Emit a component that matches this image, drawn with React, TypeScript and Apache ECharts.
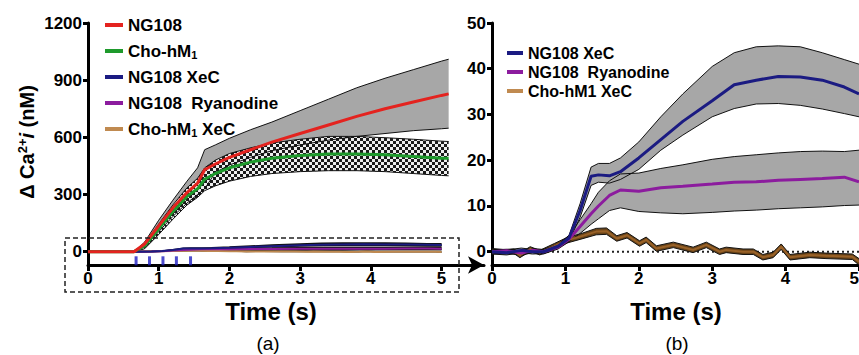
import React, { useEffect, useRef } from 'react';
import * as echarts from 'echarts';

// ---------- Panel (a) data (nM) ----------
const tA = [0, 0.3, 0.65, 0.8, 1.0, 1.2, 1.4, 1.55, 1.65, 1.8, 2.0, 2.3, 2.6, 3.0, 3.4, 3.8, 4.2, 4.6, 5.0, 5.1];
const redMean = [0, 0, 0, 40, 135, 230, 310, 360, 430, 460, 495, 535, 575, 620, 665, 710, 750, 785, 820, 828];
const redUpper = [0, 0, 0, 50, 165, 270, 370, 440, 535, 560, 595, 640, 680, 740, 800, 860, 910, 955, 1000, 1010];
const redLower = [0, 0, 0, 25, 105, 185, 255, 300, 330, 415, 455, 495, 530, 560, 585, 605, 620, 635, 645, 648];
const greenMean = [0, 0, 0, 30, 120, 210, 290, 330, 380, 410, 440, 470, 490, 505, 512, 513, 508, 500, 490, 490];
const greenUpper = [0, 0, 0, 40, 145, 245, 335, 385, 440, 480, 515, 545, 570, 590, 605, 605, 598, 590, 580, 578];
const greenLower = [0, 0, 0, 15, 90, 170, 245, 285, 320, 345, 370, 395, 410, 420, 425, 425, 420, 410, 400, 398];

// ---------- Panel (b) data (nM) ----------
const tB = [0, 0.2, 0.4, 0.55, 0.7, 0.9, 1.05, 1.2, 1.35, 1.45, 1.6, 1.75, 2.0, 2.3, 2.6, 3.0, 3.3, 3.6, 3.9, 4.2, 4.5, 4.8, 5.0];
const xecMean = [0, -0.2, 0.3, 0, 0, 1.2, 3, 9, 16.5, 16.8, 16.6, 17.5, 20.5, 24.5, 28.5, 33, 36.5, 37.5, 38.3, 38.2, 37.5, 36, 34.5];
const xecUpper = [0.5, 0.4, 0.8, 0.5, 0.4, 1.6, 3.6, 10.5, 18.5, 19.3, 19.3, 20.5, 24, 29.5, 34.5, 40.5, 43.5, 44.8, 45, 44.8, 43.5, 42, 41];
const xecLower = [-0.5, -0.7, -0.2, -0.5, -0.4, 0.8, 2.4, 7.5, 14.5, 15.2, 15, 15.8, 18, 22.2, 25.5, 29.5, 31.3, 32.3, 32.4, 32, 31.2, 30.2, 29.5];
const ryaMean = [0, 0.2, -0.3, 0.3, 0, 1, 2.8, 5.5, 8.3, 10, 12.3, 13.5, 13.2, 14, 14.3, 14.8, 15.2, 15.3, 15.6, 15.8, 16, 16.3, 15.3];
const ryaUpper = [0.5, 0.5, 0.3, 0.7, 0.5, 1.5, 3.5, 7, 10.5, 13, 15.5, 17, 17.2, 18.2, 19, 20.2, 20.8, 21.2, 21.6, 21.9, 22, 21.9, 22.2];
const ryaLower = [-0.5, -0.3, -0.8, -0.2, -0.5, 0.6, 2.2, 4, 6, 7.2, 9, 9.6, 8.8, 8.5, 8.3, 8.6, 8.9, 9.1, 9.4, 9.6, 9.8, 10.1, 10.2];
const tBrown = [0, 0.15, 0.3, 0.38, 0.52, 0.65, 0.85, 1.02, 1.2, 1.42, 1.56, 1.7, 1.84, 2.01, 2.1, 2.24, 2.47, 2.74, 2.92, 3.1, 3.19, 3.42, 3.56, 3.69, 3.83, 3.94, 4.06, 4.33, 4.55, 4.91, 5.0];
const brownMean = [0.2, 0, 0.1, -0.8, 0.6, -0.2, 1.2, 2.5, 3.3, 4.4, 4.5, 2.9, 3.6, 1.8, 2.6, 0.7, 1.5, 0.4, 1.5, 0, 0.4, 0, 0, -1.2, -0.7, 1.1, -1.2, -0.7, -0.9, -1.1, -2.2];
const brownSem = [0.5, 0.5, 0.5, 0.5, 0.5, 0.5, 0.6, 0.6, 0.6, 0.7, 0.7, 0.6, 0.6, 0.6, 0.6, 0.6, 0.6, 0.6, 0.6, 0.6, 0.6, 0.6, 0.6, 0.6, 0.6, 0.6, 0.6, 0.6, 0.6, 0.6, 0.7];

// stimulation markers (s)
const stimTimes = [0.68, 0.87, 1.06, 1.25, 1.45];

const ticksA = [0, 300, 600, 900, 1200];
const ticksB = [0, 10, 20, 30, 40, 50];
const ticksX = [0, 1, 2, 3, 4, 5];

const legendA = ['NG108', 'Cho-hM1', 'NG108 XeC', 'NG108  Ryanodine', 'Cho-hM1 XeC'];
const legendB = ['NG108 XeC', 'NG108  Ryanodine', 'Cho-hM1 XeC'];

const RED = '#e4231f';
const GREEN = '#1e9a2c';
const NAVY = '#1b1b82';
const PURPLE = '#8c1c9e';
const BROWN = '#9a6228';
const FONT = 'Liberation Sans, Arial, sans-serif';

const zip = (t: number[], v: number[]) => t.map((x, i) => [x, v[i]]);

function band(idx: number, t: number[], up: number[], lo: number[], fill: any, z: number) {
  return {
    type: 'custom',
    xAxisIndex: idx,
    yAxisIndex: idx,
    silent: true,
    z,
    clip: false,
    data: [[t[0], up[0]]],
    encode: { x: 0, y: 1 },
    renderItem: (_p: any, api: any) => {
      const pts: number[][] = [];
      for (let i = 0; i < t.length; i++) pts.push(api.coord([t[i], up[i]]));
      for (let i = t.length - 1; i >= 0; i--) pts.push(api.coord([t[i], lo[i]]));
      return { type: 'polygon', shape: { points: pts }, style: { fill, stroke: 'none' } };
    },
  };
}

function line(idx: number, name: string | undefined, t: number[], v: number[], color: string, width: number, z: number) {
  return {
    type: 'line',
    name,
    xAxisIndex: idx,
    yAxisIndex: idx,
    data: zip(t, v),
    showSymbol: false,
    symbol: 'none',
    silent: true,
    z,
    color,
    lineStyle: { color, width },
    itemStyle: { color },
  };
}

export default function App() {
  const ref = useRef<HTMLDivElement>(null);
  useEffect(() => {
    const chart = echarts.init(ref.current!, null, { renderer: 'svg' });

    const c = document.createElement('canvas');
    c.width = 6;
    c.height = 6;
    const ctx = c.getContext('2d')!;
    ctx.fillStyle = '#eeeeee';
    ctx.fillRect(0, 0, 6, 6);
    ctx.fillStyle = '#1a1a1a';
    ctx.fillRect(0, 0, 3, 3);
    ctx.fillRect(3, 3, 3, 3);
    const checker = { image: c, repeat: 'repeat', imageWidth: 6, imageHeight: 6 };

    const brownUp = brownMean.map((m, i) => m + brownSem[i]);
    const brownLo = brownMean.map((m, i) => m - brownSem[i]);

    const axisLabel = {
      fontFamily: FONT,
      fontWeight: 'bold',
      fontSize: 17,
      color: '#000',
      formatter: (v: number) => String(v),
    };

    const xAxisCommon = (max: number, arrow: boolean) => ({
      type: 'value',
      min: 0,
      max,
      splitLine: { show: false },
      axisLine: {
        onZero: false,
        lineStyle: { color: '#000', width: 3 },
        symbol: arrow ? ['none', 'arrow'] : ['none', 'none'],
        symbolSize: [13, 16],
      },
      axisTick: { show: true, customValues: ticksX, length: 6, lineStyle: { width: 3, color: '#000' } },
      axisLabel: {
        ...axisLabel,
        customValues: ticksX,
        margin: 5,
        showMaxLabel: true,
        alignMaxLabel: arrow ? 'center' : 'right',
      },
    });

    const option: any = {
      animation: false,
      textStyle: { fontFamily: FONT },
      grid: [
        { left: 88, top: 23, width: 396, height: 242, outerBoundsMode: 'none', containLabel: false },
        { left: 492, top: 23, width: 367, height: 242, outerBoundsMode: 'none', containLabel: false },
      ],
      xAxis: [
        { gridIndex: 0, ...xAxisCommon(5.6, true) },
        { gridIndex: 1, ...xAxisCommon(5, false) },
      ],
      yAxis: [
        {
          gridIndex: 0,
          type: 'value',
          min: -70,
          max: 1200,
          splitLine: { show: false },
          axisLine: { show: true, onZero: false, lineStyle: { color: '#000', width: 3 } },
          axisTick: { show: true, customValues: ticksA, length: 5, lineStyle: { width: 3, color: '#000' } },
          axisLabel: { ...axisLabel, customValues: ticksA, margin: 6 },
        },
        {
          gridIndex: 1,
          type: 'value',
          min: -2.9,
          max: 50,
          splitLine: { show: false },
          axisLine: { show: true, onZero: false, lineStyle: { color: '#000', width: 3 } },
          axisTick: { show: true, customValues: ticksB, length: 5, lineStyle: { width: 3, color: '#000' } },
          axisLabel: { ...axisLabel, customValues: ticksB, margin: 6 },
        },
      ],
      legend: [
        {
          data: legendA,
          orient: 'vertical',
          left: 100,
          top: 11,
          itemWidth: 18,
          itemHeight: 4,
          itemGap: 8,
          icon: 'rect',
          selectedMode: false,
          formatter: (name: string) =>
            name.startsWith('Cho-hM1') ? `{t|Cho-hM}{s|1}{t|${name.slice(7)}}` : `{t|${name}}`,
          textStyle: {
            fontFamily: FONT,
            fontWeight: 'bold',
            fontSize: 17,
            color: '#000',
            lineHeight: 18,
            rich: {
              t: { fontFamily: FONT, fontWeight: 'bold', fontSize: 17, color: '#000', lineHeight: 18 },
              s: { fontFamily: FONT, fontWeight: 'bold', fontSize: 11, color: '#000', lineHeight: 9, verticalAlign: 'bottom' },
            },
          },
        },
        {
          data: legendB,
          orient: 'vertical',
          left: 502,
          top: 40,
          itemWidth: 16,
          itemHeight: 4,
          itemGap: 3,
          icon: 'rect',
          selectedMode: false,
          textStyle: { fontFamily: FONT, fontWeight: 'bold', fontSize: 16, color: '#000', lineHeight: 16 },
        },
      ],
      graphic: [
        {
          type: 'text',
          x: 27,
          y: 142,
          rotation: Math.PI / 2,
          style: {
            text: '{a|Δ Ca}{p|2+}{i|i}{a| (nM)}',
            align: 'center',
            verticalAlign: 'middle',
            rich: {
              a: { fontFamily: FONT, fontWeight: 'bold', fontSize: 20, fill: '#000', lineHeight: 23 },
              p: { fontFamily: FONT, fontWeight: 'bold', fontSize: 13, fill: '#000', lineHeight: 13, verticalAlign: 'top' },
              i: { fontFamily: FONT, fontWeight: 'bold', fontStyle: 'italic', fontSize: 20, fill: '#000', lineHeight: 23 },
            },
          },
        },
        {
          type: 'text', x: 271, y: 311,
          style: { text: 'Time (s)', font: `bold 24px ${FONT}`, fill: '#000', align: 'center', verticalAlign: 'middle' },
        },
        {
          type: 'text', x: 676, y: 311,
          style: { text: 'Time (s)', font: `bold 24px ${FONT}`, fill: '#000', align: 'center', verticalAlign: 'middle' },
        },
        {
          type: 'text', x: 268, y: 343,
          style: { text: '(a)', font: `19px ${FONT}`, fill: '#000', align: 'center', verticalAlign: 'middle' },
        },
        {
          type: 'text', x: 677, y: 343,
          style: { text: '(b)', font: `19px ${FONT}`, fill: '#000', align: 'center', verticalAlign: 'middle' },
        },
        {
          type: 'rect',
          shape: { x: 65, y: 238, width: 394, height: 54 },
          style: { fill: 'none', stroke: '#222', lineWidth: 1.5, lineDash: [5, 3] },
          z: 100,
        },
      ],
      series: [
        // ----- panel (a) -----
        band(0, tA, redUpper, redLower, '#a7a7a7', 1),
        band(0, tA, greenUpper, greenLower, checker, 2),
        line(0, undefined, tA, redUpper, '#111', 1, 3),
        line(0, undefined, tA, redLower, '#111', 1, 3),
        line(0, undefined, tA, greenUpper, '#111', 1, 3),
        line(0, undefined, tA, greenLower, '#111', 1, 3),
        band(0, tB, xecUpper, xecLower, '#111', 3),
        band(0, tB, ryaUpper, ryaLower, '#111', 3),
        line(0, undefined, tB, xecUpper, '#111', 1.5, 3),
        line(0, undefined, tB, xecLower, '#111', 1.5, 3),
        line(0, undefined, tB, ryaUpper, '#111', 1.5, 3),
        line(0, undefined, tB, ryaLower, '#111', 1.5, 3),
        band(0, tBrown, brownUp, brownLo, '#222', 3),
        line(0, undefined, tBrown, brownUp, '#111', 1.5, 3),
        line(0, 'Cho-hM1 XeC', tBrown, brownMean, '#c08a50', 2, 4),
        line(0, 'NG108  Ryanodine', tB, ryaMean, PURPLE, 2, 4),
        line(0, 'NG108 XeC', tB, xecMean, NAVY, 2, 4),
        line(0, 'Cho-hM1', tA, greenMean, GREEN, 3, 5),
        line(0, 'NG108', tA, redMean, RED, 3, 6),
        {
          type: 'scatter',
          xAxisIndex: 0,
          yAxisIndex: 0,
          silent: true,
          symbol: 'rect',
          symbolSize: [3, 9],
          itemStyle: { color: '#1f1fc0' },
          data: stimTimes.map((t) => [t, -48]),
          z: 7,
        },
        // ----- panel (b) -----
        {
          type: 'line',
          xAxisIndex: 1,
          yAxisIndex: 1,
          data: [[0, 0], [5, 0]],
          showSymbol: false,
          symbol: 'none',
          silent: true,
          z: 1,
          lineStyle: { color: '#222', width: 2, type: [2, 3] },
        },
        band(1, tB, ryaUpper, ryaLower, '#a7a7a7', 2),
        band(1, tB, xecUpper, xecLower, '#a7a7a7', 2),
        line(1, undefined, tB, ryaUpper, '#111', 1, 3),
        line(1, undefined, tB, ryaLower, '#111', 1, 3),
        line(1, undefined, tB, xecUpper, '#111', 1, 3),
        line(1, undefined, tB, xecLower, '#111', 1, 3),
        band(1, tBrown, brownUp, brownLo, '#6a4418', 3),
        line(1, undefined, tBrown, brownUp, '#111', 1, 4),
        line(1, undefined, tBrown, brownLo, '#111', 1, 4),
        line(1, 'Cho-hM1 XeC', tBrown, brownMean, BROWN, 2, 5),
        line(1, 'NG108  Ryanodine', tB, ryaMean, PURPLE, 3, 5),
        line(1, 'NG108 XeC', tB, xecMean, NAVY, 3, 6),
      ],
    };

    chart.setOption(option);
    return () => chart.dispose();
  }, []);

  return (
    <div
      ref={ref}
      style={{ position: 'fixed', left: 0, top: 0, width: 859, height: 355, background: '#fff' }}
    />
  );
}
